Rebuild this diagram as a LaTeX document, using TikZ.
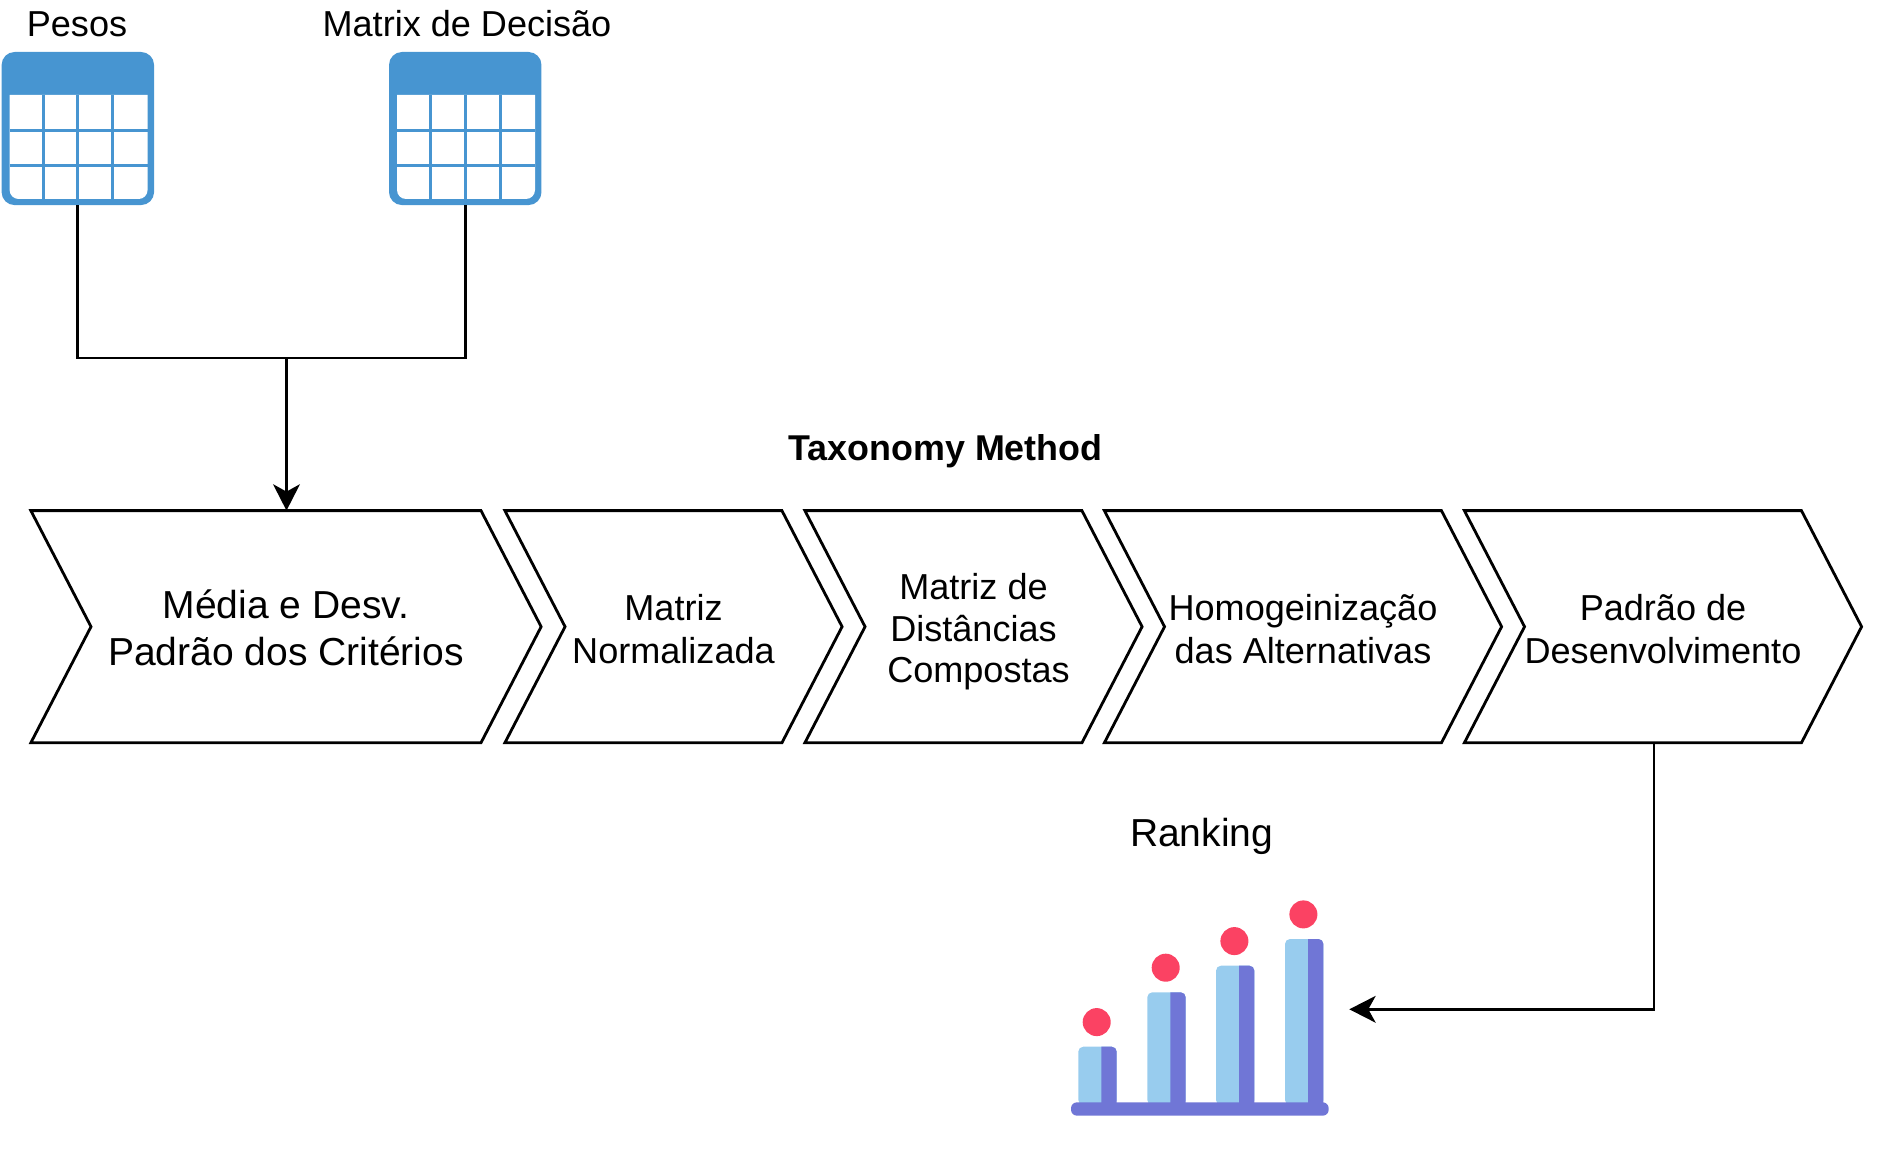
\documentclass[tikz,border=0pt]{standalone}
\usepackage{fontspec}
\setmainfont{Liberation Sans}
\usetikzlibrary{arrows.meta, shapes.symbols, calc}
\definecolor{tableblue}{HTML}{4795D1}
\definecolor{barlight}{HTML}{98CCEE}
\definecolor{bardark}{HTML}{7076D6}
\definecolor{dotred}{HTML}{FB4263}
\tikzset{
    wire/.style={
        line width=0.028cm
    },
    flow/.style={
        wire, -{Stealth[length=0.263cm, width=0.267cm, inset=0.073cm]}
    },
    my-label/.style={
        inner sep=0, anchor=base, font=\fontsize{10.26pt}{12.3pt}\selectfont
    },
    my-chevron/.style={
        signal, signal from=west, signal to=east, signal pointer angle=125.2,
        draw, wire, minimum height=2.32cm, inner sep=0, outer sep=0, align=center,
        font=\fontsize{10.26pt}{12.04pt}\selectfont
    },
    tableicon/.pic={
        \node[fill=tableblue, rounded corners=0.13cm, minimum width=1.524cm, minimum height=1.53cm,
              inner sep=0, outer sep=0, anchor=north west] (-box) at (0,0) {};
        \fill[white] (8,43) -- (146,43) [rounded corners=0.09cm] -- (146,147) -- (8,147) [sharp corners] -- cycle;
        \foreach \gridx in {41.5,76,111}
            \draw[tableblue, line width=0.03cm] (\gridx,43) -- (\gridx,147);
        \foreach \gridy in {78.7,113.3}
            \draw[tableblue, line width=0.03cm] (8,\gridy) -- (146,\gridy);
    },
}

\begin{document}
\begin{tikzpicture}[x=0.01cm, y=-0.01cm]

        \useasboundingbox (0,0) rectangle (1893,1158);

        % INPUTS
        \node[my-label] (PESOSLBL)  at (77,36.5)  {Pesos};
        \node[my-label] (MATRIXLBL) at (467,36.5) {Matrix de Decisão};
        \pic (PESOS)  at (1.6,52) {tableicon};
        \pic (MATRIX) at (389,52) {tableicon};

        % TITLE
        \node[my-label, font=\fontsize{10.2pt}{12.2pt}\selectfont\bfseries] (TITLE) at (945.5,461) {Taxonomy Method};

        % CHEVRONS
        \node[my-chevron, minimum width=5.10cm, font=\fontsize{11.1pt}{13.4pt}\selectfont] (MEDIA) at (286,626.7) {\rule{0pt}{8.9pt}Média e Desv.\\Padrão dos Critérios};
        \node[my-chevron, minimum width=3.37cm] (NORM) at (673.5,626.7)  {\rule{0pt}{8.8pt}Matriz\\Normalizada};
        \node[my-chevron, minimum width=3.37cm, font=\fontsize{10.26pt}{11.85pt}\selectfont] (DIST) at (973.5,626.7)  {\rule{0pt}{10.3pt}Matriz de\\Distâncias\\\hspace*{0.1cm}Compostas};
        \node[my-chevron, minimum width=3.97cm] (HOMO) at (1303,626.7)   {\rule{0pt}{8.8pt}Homogeinização\\das Alternativas};
        \node[my-chevron, minimum width=3.97cm] (PADR) at (1663,626.7)   {\rule{0pt}{8.8pt}Padrão de\\Desenvolvimento};

        % RANKING CHART
        \node[my-label, font=\fontsize{11.1pt}{13.4pt}\selectfont] (RANKLBL) at (1201.7,846.7) {Ranking};
        \foreach \barx/\bartop in {1078.3/1046.7, 1147.3/992.3, 1216/965.7, 1285/939} {
            \fill[barlight, rounded corners=0.05cm] (\barx,1105) -- (\barx,\bartop) -- (\barx+38.4,\bartop) -- (\barx+38.4,1105) -- cycle;
            \fill[bardark] (\barx+23,\bartop) [rounded corners=0.05cm] -- (\barx+38.4,\bartop) [sharp corners] -- (\barx+38.4,1105) -- (\barx+23,1105) -- cycle;
            \fill[dotred] (\barx+18.4,\bartop-24.6) circle (0.14cm);
        }
        \fill[bardark, rounded corners=0.06cm] (1071,1102.3) rectangle (1328.7,1115.7);

        % WIRES CONNECTOR POINTS
        \coordinate[] (JOIN)   at (286.5,358);
        \coordinate[] (PADROUT) at ($(PADR.south) + (-9,0)$);
        \coordinate[] (RANKIN) at (1349.3,1009.3);

        % INPUT CONNECTIONS
        \draw[wire] (PESOS-box.south)  |- (JOIN);
        \draw[wire] (MATRIX-box.south) |- (JOIN);
        \draw[flow] (JOIN) -- (JOIN |- MEDIA.north);

        % OUTPUT CONNECTIONS
        \draw[flow] (PADROUT) |- (RANKIN);

    \end{tikzpicture}
\end{document}
